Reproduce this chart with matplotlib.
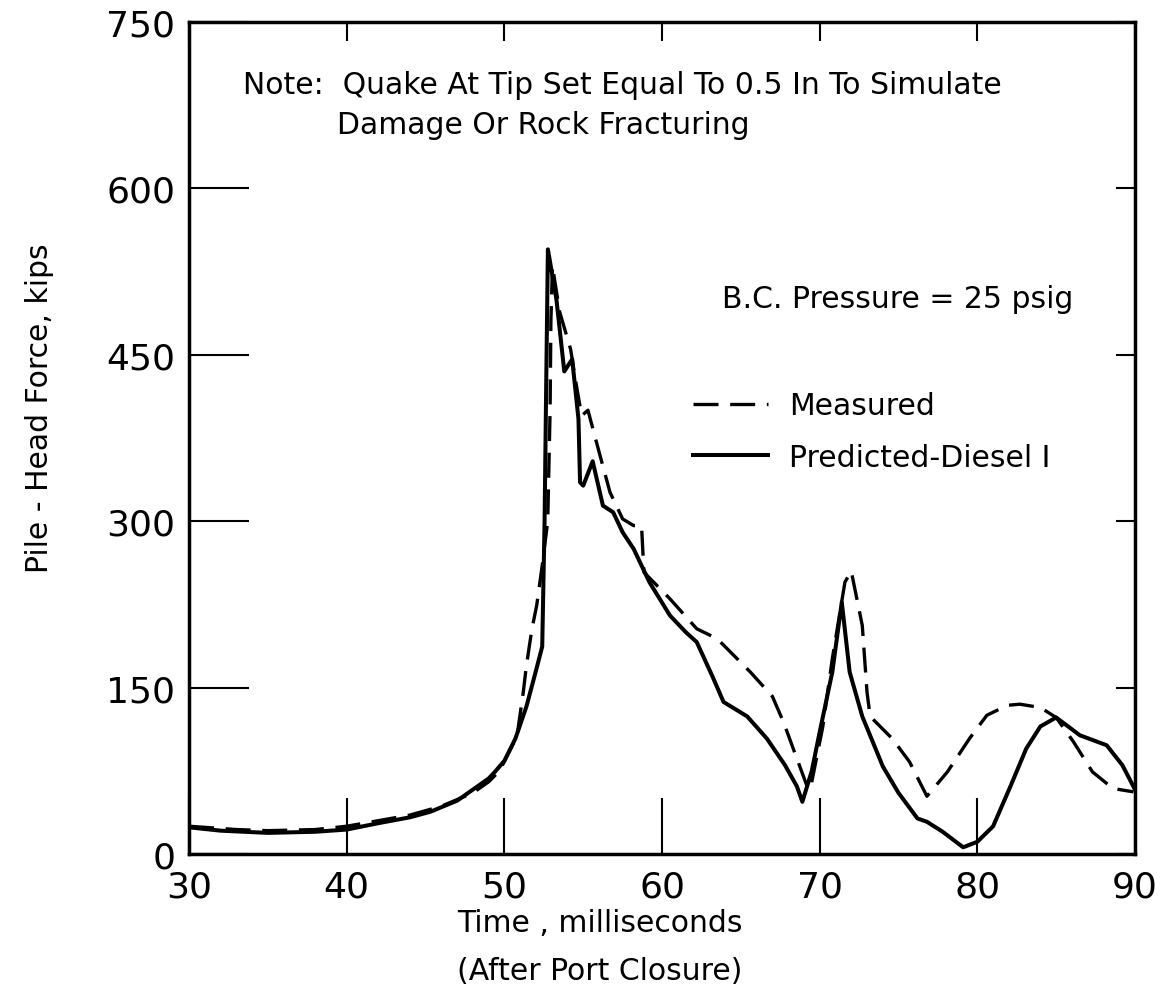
import numpy as np
import matplotlib
matplotlib.use("Agg")
import matplotlib.pyplot as plt

# Pile-head force vs time
t_pred = [30.0, 32.0, 35.0, 38.0, 40.0, 42.1, 44.0, 45.3, 47.0, 47.8, 49.0, 49.4,
          50.0, 50.7, 51.4, 52.0, 52.4, 52.55, 52.65, 52.76, 53.3, 53.8, 54.3, 54.7,
          54.8, 55.0, 55.6, 56.25, 56.9, 57.5, 58.2, 59.2, 60.5, 61.5, 62.2, 63.2,
          63.9, 65.4, 66.65, 67.8, 68.55, 68.9, 69.5, 70.0, 70.8, 71.4, 71.9, 72.7,
          73.8, 74.0, 75.0, 76.2, 76.8, 77.8, 79.1, 80.0, 81.0, 82.1, 83.1, 84.0,
          85.0, 86.5, 88.2, 89.2, 90.0]
f_pred = [24, 21, 19, 20, 22, 28, 33, 38, 48, 56, 68, 74,
          84, 104, 133, 165, 187, 300, 420, 545, 500, 435, 446, 392,
          335, 332, 354, 314, 308, 290, 275, 245, 215, 200, 191, 160,
          137, 124, 104, 80, 61, 47, 75, 110, 164, 227, 164, 124,
          86, 79, 55, 32, 29, 20, 6, 11, 25, 61, 95, 115,
          123, 107, 98, 80, 58]

t_meas = [30.0, 33.0, 35.0, 38.0, 40.0, 42.0, 44.0, 46.0, 48.0, 49.0, 49.7, 50.8,
          51.2, 51.4, 51.75, 52.05, 52.4, 52.75, 52.9, 52.95, 53.05, 53.5, 54.2, 54.5,
          54.9, 55.3, 55.9, 56.7, 57.5, 58.2, 58.7, 58.85, 60.5, 62.2, 63.5, 65.6,
          67.0, 67.7, 69.2, 69.4, 70.2, 70.8, 71.6, 72.0, 72.7, 73.0, 73.2, 74.6,
          75.7, 76.8, 78.1, 79.5, 80.6, 81.9, 82.7, 84.0, 85.0, 86.1, 87.3, 88.6,
          89.9]
f_meas = [25, 22, 21, 22, 25, 30, 35, 43, 55, 65, 75, 106,
          146, 170, 203, 224, 260, 300, 400, 480, 530, 489, 455, 428,
          395, 400, 368, 326, 302, 296, 296, 254, 230, 203, 194, 164,
          142, 119, 61, 58, 115, 176, 245, 255, 206, 146, 124, 104,
          83, 52, 74, 104, 125, 134, 135, 132, 123, 101, 74, 59,
          56]

x_ticks = [30, 40, 50, 60, 70, 80, 90]
y_ticks = [0, 150, 300, 450, 600, 750]

fig = plt.figure(figsize=(11.67, 10.03), dpi=100)
ax = fig.add_axes([0.162, 0.1476, 0.8106, 0.8295])

ax.plot(t_meas, f_meas, color='black', lw=2.4, linestyle=(0, (7.5, 3.5)),
        label='Measured')
ax.plot(t_pred, f_pred, color='black', lw=2.9, label='Predicted-Diesel I')

ax.set_xlim(30, 90)
ax.set_ylim(0, 750)
ax.set_xticks(x_ticks)
ax.set_yticks(y_ticks)
ax.tick_params(axis='x', direction='in', length=40, width=1.5, labelsize=26, pad=11)
ax.tick_params(axis='y', direction='in', length=43, width=1.5, labelsize=26, pad=10)
for s in ax.spines.values():
    s.set_linewidth(2.5)

# short ticks on top and right edges
top = ax.secondary_xaxis('top')
top.set_xticks(x_ticks)
top.tick_params(direction='in', length=14, width=1.5, labeltop=False)
right = ax.secondary_yaxis('right')
right.set_yticks(y_ticks)
right.tick_params(direction='in', length=14, width=1.5, labelright=False)

fs = 21.5
ax.text(0.057, 0.925, 'Note:  Quake At Tip Set Equal To 0.5 In To Simulate',
        transform=ax.transAxes, fontsize=fs, va='center')
ax.text(0.156, 0.877, 'Damage Or Rock Fracturing',
        transform=ax.transAxes, fontsize=fs, va='center')
ax.text(0.563, 0.668, 'B.C. Pressure = 25 psig',
        transform=ax.transAxes, fontsize=fs, va='center')

ax.legend(loc='upper left', bbox_to_anchor=(0.533, 0.556), frameon=False,
          fontsize=fs, handlelength=2.5, handletextpad=0.7, labelspacing=0.75,
          borderpad=0, borderaxespad=0)

fig.text(40 / 1167, 1 - 408 / 1003, 'Pile - Head Force, kips', rotation=90,
         fontsize=fs, ha='center', va='center')
fig.text(457 / 1167, 1 - 924 / 1003, 'Time , milliseconds', fontsize=fs,
         ha='left', va='center')
fig.text(457 / 1167, 1 - 972 / 1003, '(After Port Closure)', fontsize=fs,
         ha='left', va='center')

fig.savefig('out.png', dpi=100)
